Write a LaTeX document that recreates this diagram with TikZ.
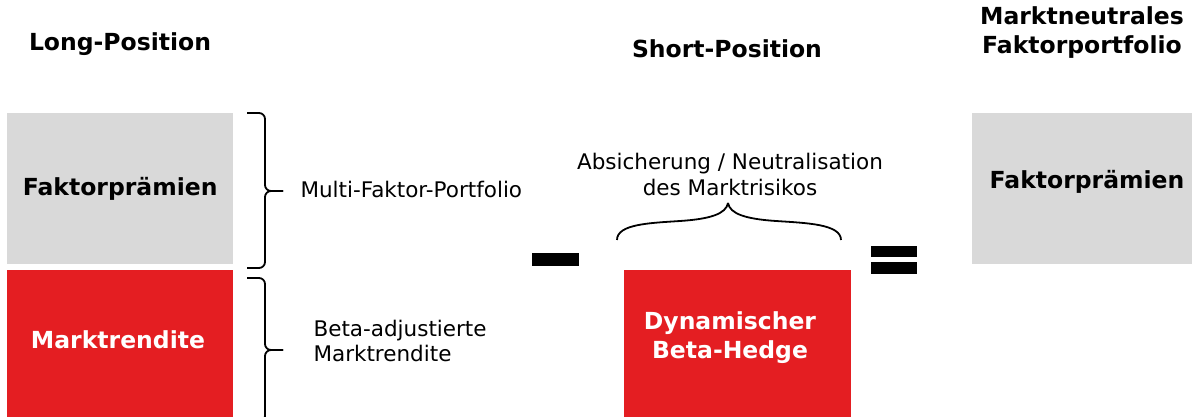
\documentclass[tikz,border=0pt]{standalone}
\usepackage{fontspec}
\setmainfont{DejaVu Sans}
\usetikzlibrary{positioning}
\definecolor{hedgered}{RGB}{228,30,34}
\definecolor{premgray}{RGB}{217,217,217}

\begin{document}
\begin{tikzpicture}[x=1pt, y=-1pt,
    block/.style={inner sep=0pt, anchor=north west},
    head/.style={font=\fontsize{23.5}{29}\selectfont\bfseries, align=center},
    note/.style={font=\fontsize{21.5}{25.5}\selectfont, align=left},
    curly/.style={line width=1.8pt, rounded corners=6pt},
    bar/.style={fill=black, inner sep=0pt}]
    \useasboundingbox (0,0) rectangle (1192,417);

    % Column headings
    \node[head] (longhead) at (120,44) {Long-Position};
    \node[head] (shorthead) at (727,49) {Short-Position};
    \node[head] (neutralhead) at (1082,33) {Marktneutrales\\Faktorportfolio};

    % Long side: factor premia on top of market return
    \node[block, fill=premgray, minimum width=226pt, minimum height=151pt] (premia) at (7,113) {};
    \node[head] at (premia.center) {Faktorprämien};
    \node[block, fill=hedgered, minimum width=226pt, minimum height=147pt] (market) at (7,270) {};
    \node[head, text=white] at (118,340) {Marktrendite};

    % Braces with their notes
    \coordinate (b1top) at (247,113);
    \coordinate (b1bot) at (247,268);
    \coordinate (b1tip) at (283,191);
    \coordinate (b2top) at (247,278);
    \coordinate (b2bot) at (247,422);
    \coordinate (b2tip) at (283,350);
    \draw[curly] (b1top) -| (265,191) -- (b1tip);
    \draw[curly] (b1bot) -| (265,191) -- (b1tip);
    \draw[curly] (b2top) -| (265,350) -- (b2tip);
    \draw[curly] (b2bot) -| (265,350) -- (b2tip);
    \node[note, anchor=west] (multi) at (297,189) {Multi-Faktor-Portfolio};
    \node[note, anchor=west] (betaadj) at (310,341) {Beta-adjustierte\\Marktrendite};

    % Minus sign
    \node[bar, minimum width=47pt, minimum height=13pt] (minus) at (555.5,259.5) {};

    % Short side: dynamic beta hedge
    \node[block, fill=hedgered, minimum width=227pt, minimum height=147pt] (hedge) at (624,270) {};
    \node[head, text=white] (hedgetxt) at (730,338) {Dynamischer\\Beta-Hedge};
    \coordinate (b3left) at (617,240);
    \coordinate (b3right) at (841,240);
    \coordinate (b3tip) at (728,203);
    \draw[line width=1.8pt] (b3left) .. controls (617,224) and (650,223) .. (680,221)
        .. controls (710,219) and (726,214) .. (b3tip);
    \draw[line width=1.8pt] (b3right) .. controls (841,224) and (806,223) .. (776,221)
        .. controls (746,219) and (730,214) .. (b3tip);
    \node[note, align=center] (hedgenote) at (730,174.5) {Absicherung / Neutralisation\\des Marktrisikos};

    % Equals sign
    \node[bar, minimum width=46pt, minimum height=11pt] (eqtop) at (894,251.5) {};
    \node[bar, minimum width=46pt, minimum height=12pt] (eqbot) at (894,268) {};

    % Result: market-neutral factor portfolio
    \node[block, fill=premgray, minimum width=220pt, minimum height=151pt] (result) at (972,113) {};
    \node[head] (resulttxt) at (1087,182) {Faktorprämien};
\end{tikzpicture}
\end{document}
